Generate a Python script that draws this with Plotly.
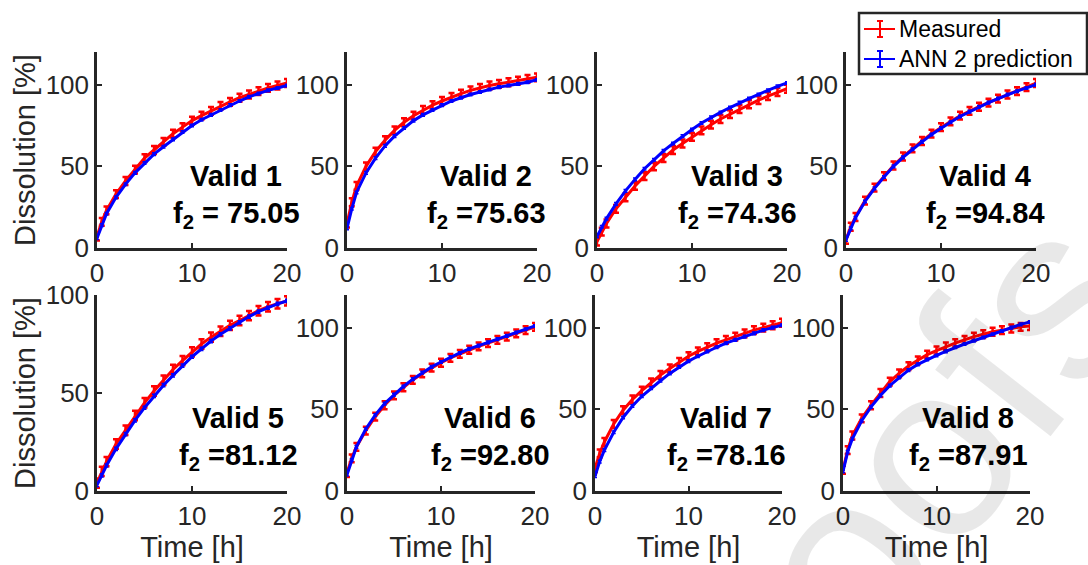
import plotly.graph_objects as go

# ---------------- data ----------------
TIME = [0, 0.5, 1, 2, 3, 4, 5, 6, 7, 8, 9, 10, 11, 12, 13, 14, 15, 16, 17, 18, 19, 20]

MEAS_1 = [7, 16, 23, 33, 41, 48, 55, 60, 65, 70, 74, 78, 81, 84, 87, 89.5, 92, 94, 96, 98, 99.5, 101]
PRED_1 = [6, 14, 21, 31, 39, 46, 52, 57.5, 62, 66.5, 71, 75, 78.5, 81.5, 84.5, 87.5, 90, 92.5, 94.5, 96.5, 98, 99.5]

MEAS_2 = [15, 28, 38, 50, 59, 66, 72, 77, 81, 84.5, 87.5, 90, 92.5, 94.5, 96.5, 98, 99.5, 100.5, 101.5, 102.5, 103.5, 104.5]
PRED_2 = [12, 24, 34, 46, 55, 62.5, 68.5, 73.5, 78, 81.5, 84.5, 87.5, 90, 92, 94, 95.5, 97, 98.5, 99.5, 100.5, 101.5, 103]

MEAS_3 = [4, 10, 15, 24, 31, 38, 44, 50, 55, 60, 64, 68, 72, 75.5, 79, 82, 85, 88, 90.5, 93, 95.5, 97.5]
PRED_3 = [7, 13, 18, 27, 35, 42, 48.5, 54, 59.5, 64, 68.5, 72.5, 76.5, 80, 83, 86, 89, 91.5, 94, 96.5, 99, 101]

MEAS_4 = [5, 13, 19, 29, 37, 44, 50.5, 56, 61, 65.5, 70, 74, 77.5, 81, 84, 86.5, 89, 91.5, 94, 96, 98.5, 101]
PRED_4 = [5, 12, 18.5, 28.5, 36.5, 43.5, 50, 55.5, 60.5, 65, 69.5, 73.5, 77, 80.5, 83.5, 86.5, 89, 91.5, 94, 96, 98, 100]

MEAS_5 = [4, 10, 15, 24, 31, 38.5, 45, 51, 56.5, 62, 66.5, 71, 75, 78.5, 81.5, 84.5, 87, 89.5, 92, 94, 95.5, 97]
PRED_5 = [3, 8, 13, 21.5, 29, 36, 42.5, 48.5, 54, 59, 64, 68.5, 72.5, 76.5, 80, 83, 86, 89, 91.5, 93.5, 95.5, 97]

MEAS_6 = [11, 20, 27, 37, 45.5, 52.5, 58.5, 63.5, 68, 72, 75.5, 78.5, 81.5, 84, 86.5, 88.5, 90.5, 92.5, 94.5, 96.5, 98.5, 100.5]
PRED_6 = [10, 19, 27, 38, 46.5, 53.5, 59, 64, 68.5, 72.5, 76, 79, 82, 84.5, 87, 89, 91, 93, 95, 97, 99, 101]

MEAS_7 = [14, 23, 30, 41, 49.5, 56, 61.5, 66.5, 71, 75, 79, 82.5, 85.5, 88, 90.5, 92.5, 94.5, 96.5, 98.5, 100, 101.5, 103]
PRED_7 = [9, 18, 25, 36, 45, 52, 58, 63, 67.5, 72, 76, 79.5, 82.5, 85.5, 88, 90.5, 92.5, 94.5, 96.5, 98.5, 100, 101.5]

MEAS_8 = [13, 25, 34, 44.5, 52.5, 60, 67, 72, 76.5, 80, 83.5, 86, 88.5, 90.5, 92.5, 94.5, 96, 97.5, 98.5, 99.5, 100.5, 101]
PRED_8 = [12, 24, 32, 43, 51.5, 58.5, 64.5, 69.5, 74, 77.5, 80.5, 83, 85.5, 88, 90, 92, 94, 96, 98, 100, 102, 103.5]

MEAS_SD = 2.4
PRED_SD = 0.8

MEASURED = [MEAS_1, MEAS_2, MEAS_3, MEAS_4, MEAS_5, MEAS_6, MEAS_7, MEAS_8]
PREDICTED = [PRED_1, PRED_2, PRED_3, PRED_4, PRED_5, PRED_6, PRED_7, PRED_8]
PANEL_NAMES = ["Valid 1", "Valid 2", "Valid 3", "Valid 4", "Valid 5", "Valid 6", "Valid 7", "Valid 8"]
F2_LABELS = ["f<sub>2</sub> = 75.05", "f<sub>2</sub> =75.63", "f<sub>2</sub> =74.36", "f<sub>2</sub> =94.84",
             "f<sub>2</sub> =81.12", "f<sub>2</sub> =92.80", "f<sub>2</sub> =78.16", "f<sub>2</sub> =87.91"]
SERIES_NAMES = ["Measured", "ANN 2 prediction"]
SERIES_COLORS = ["#ff0000", "#0000ff"]
Y_MAX = [120, 120, 120, 120, 100, 120, 120, 120]
X_TICKS = [0, 10, 20]
Y_TICKS = [0, 50, 100]
X_TITLE = "Time [h]"
Y_TITLE = "Dissolution [%]"

# ---------------- layout geometry (pixels) ----------------
W, H = 1088, 565
COLS_PX = [[(97, 287), (347, 537), (597, 787), (846, 1036)],
           [(97, 287), (347, 535), (595, 782), (843, 1030)]]
ROWS_PX = [(52, 248), (295, 491)]
TEXT_DX = [139, 139, 140, 139, 141, 143, 131, 125]

AX_COLOR = "#262626"
FONT = "Liberation Sans, Arial, sans-serif"


def px(xp):
    return xp / W


def py(yp):
    return 1 - yp / H


fig = go.Figure()
layout = dict(
    width=W, height=H, margin=dict(l=0, r=0, t=0, b=0, autoexpand=False),
    paper_bgcolor="white", plot_bgcolor="white",
    showlegend=False,
    font=dict(family=FONT, color=AX_COLOR),
)
annotations = []
shapes = []

for i in range(8):
    r, c = divmod(i, 4)
    n = i + 1
    xa = "x" if n == 1 else f"x{n}"
    ya = "y" if n == 1 else f"y{n}"
    x0, x1 = COLS_PX[r][c]
    y0, y1 = ROWS_PX[r]
    fig.add_trace(go.Scatter(
        x=TIME, y=MEASURED[i], mode="lines", name=SERIES_NAMES[0],
        line=dict(color=SERIES_COLORS[0], width=3),
        error_y=dict(type="constant", value=MEAS_SD, color=SERIES_COLORS[0], thickness=2.5, width=3),
        xaxis=xa, yaxis=ya,
    ))
    fig.add_trace(go.Scatter(
        x=TIME, y=PREDICTED[i], mode="lines", name=SERIES_NAMES[1],
        line=dict(color=SERIES_COLORS[1], width=3),
        error_y=dict(type="constant", value=PRED_SD, color=SERIES_COLORS[1], thickness=1.5, width=2),
        xaxis=xa, yaxis=ya,
    ))
    xkey = "xaxis" if n == 1 else f"xaxis{n}"
    ykey = "yaxis" if n == 1 else f"yaxis{n}"
    xaxis = dict(
        domain=[px(x0), px(x1)], anchor=ya, range=[0, 20], automargin=False,
        tickvals=X_TICKS, ticks="inside", ticklen=5, tickwidth=2, tickcolor=AX_COLOR,
        showline=True, linecolor=AX_COLOR, linewidth=2.5, showgrid=False, zeroline=False,
        tickfont=dict(size=26, color=AX_COLOR, family=FONT),
    )
    if r == 1:
        xaxis["title"] = dict(text=X_TITLE, font=dict(size=29, color=AX_COLOR, family=FONT), standoff=4)
    yaxis = dict(
        domain=[py(y1), py(y0)], anchor=xa, range=[0, Y_MAX[i]], automargin=False,
        tickvals=Y_TICKS, ticks="inside", ticklen=5, tickwidth=2, tickcolor=AX_COLOR,
        showline=True, linecolor=AX_COLOR, linewidth=2.5, showgrid=False, zeroline=False,
        tickfont=dict(size=26, color=AX_COLOR, family=FONT),
    )
    if c == 0:
        yaxis["title"] = dict(text=Y_TITLE, font=dict(size=29, color=AX_COLOR, family=FONT), standoff=2)
    layout[xkey] = xaxis
    layout[ykey] = yaxis
    cx = px(x0 + TEXT_DX[i])
    base_y = 176 if r == 0 else 418
    annotations.append(dict(text="<b>" + PANEL_NAMES[i] + "</b>", x=cx, y=py(base_y),
                            xref="paper", yref="paper", xanchor="center", yanchor="middle",
                            showarrow=False, font=dict(size=29, color="black", family=FONT)))
    annotations.append(dict(text="<b>" + F2_LABELS[i] + "</b>", x=cx, y=py(base_y + 39),
                            xref="paper", yref="paper", xanchor="center", yanchor="middle",
                            showarrow=False, font=dict(size=29, color="black", family=FONT)))

# faint watermark
annotations.append(dict(text="proofs", x=px(874), y=py(521), xref="paper", yref="paper",
                        xanchor="center", yanchor="middle", textangle=-52, showarrow=False,
                        font=dict(size=250, color="rgba(0,0,0,0.09)", family=FONT)))

# legend (drawn as a box with sample lines, error-bar glyphs and labels)
LEG_BOX = (859, 13, 1087, 74)
LEG_ROWS = [29, 59]
shapes.append(dict(type="rect", xref="paper", yref="paper",
                   x0=px(LEG_BOX[0]), x1=px(LEG_BOX[2]), y0=py(LEG_BOX[3]), y1=py(LEG_BOX[1]),
                   line=dict(color="#262626", width=2.5), fillcolor="white", layer="above"))
for k in range(2):
    yc = LEG_ROWS[k]
    col = SERIES_COLORS[k]
    shapes.append(dict(type="line", xref="paper", yref="paper", x0=px(864), x1=px(895),
                       y0=py(yc), y1=py(yc), line=dict(color=col, width=2), layer="above"))
    shapes.append(dict(type="line", xref="paper", yref="paper", x0=px(880), x1=px(880),
                       y0=py(yc - 8), y1=py(yc + 8), line=dict(color=col, width=2), layer="above"))
    for dy in (-8, 8):
        shapes.append(dict(type="line", xref="paper", yref="paper", x0=px(877), x1=px(883),
                           y0=py(yc + dy), y1=py(yc + dy), line=dict(color=col, width=2), layer="above"))
    annotations.append(dict(text=SERIES_NAMES[k], x=px(897), y=py(yc), xref="paper", yref="paper",
                            xanchor="left", yanchor="middle", showarrow=False,
                            font=dict(size=23, color="black", family=FONT)))

layout["annotations"] = annotations
layout["shapes"] = shapes
fig.update_layout(**layout)
fig.write_html("out.html")
